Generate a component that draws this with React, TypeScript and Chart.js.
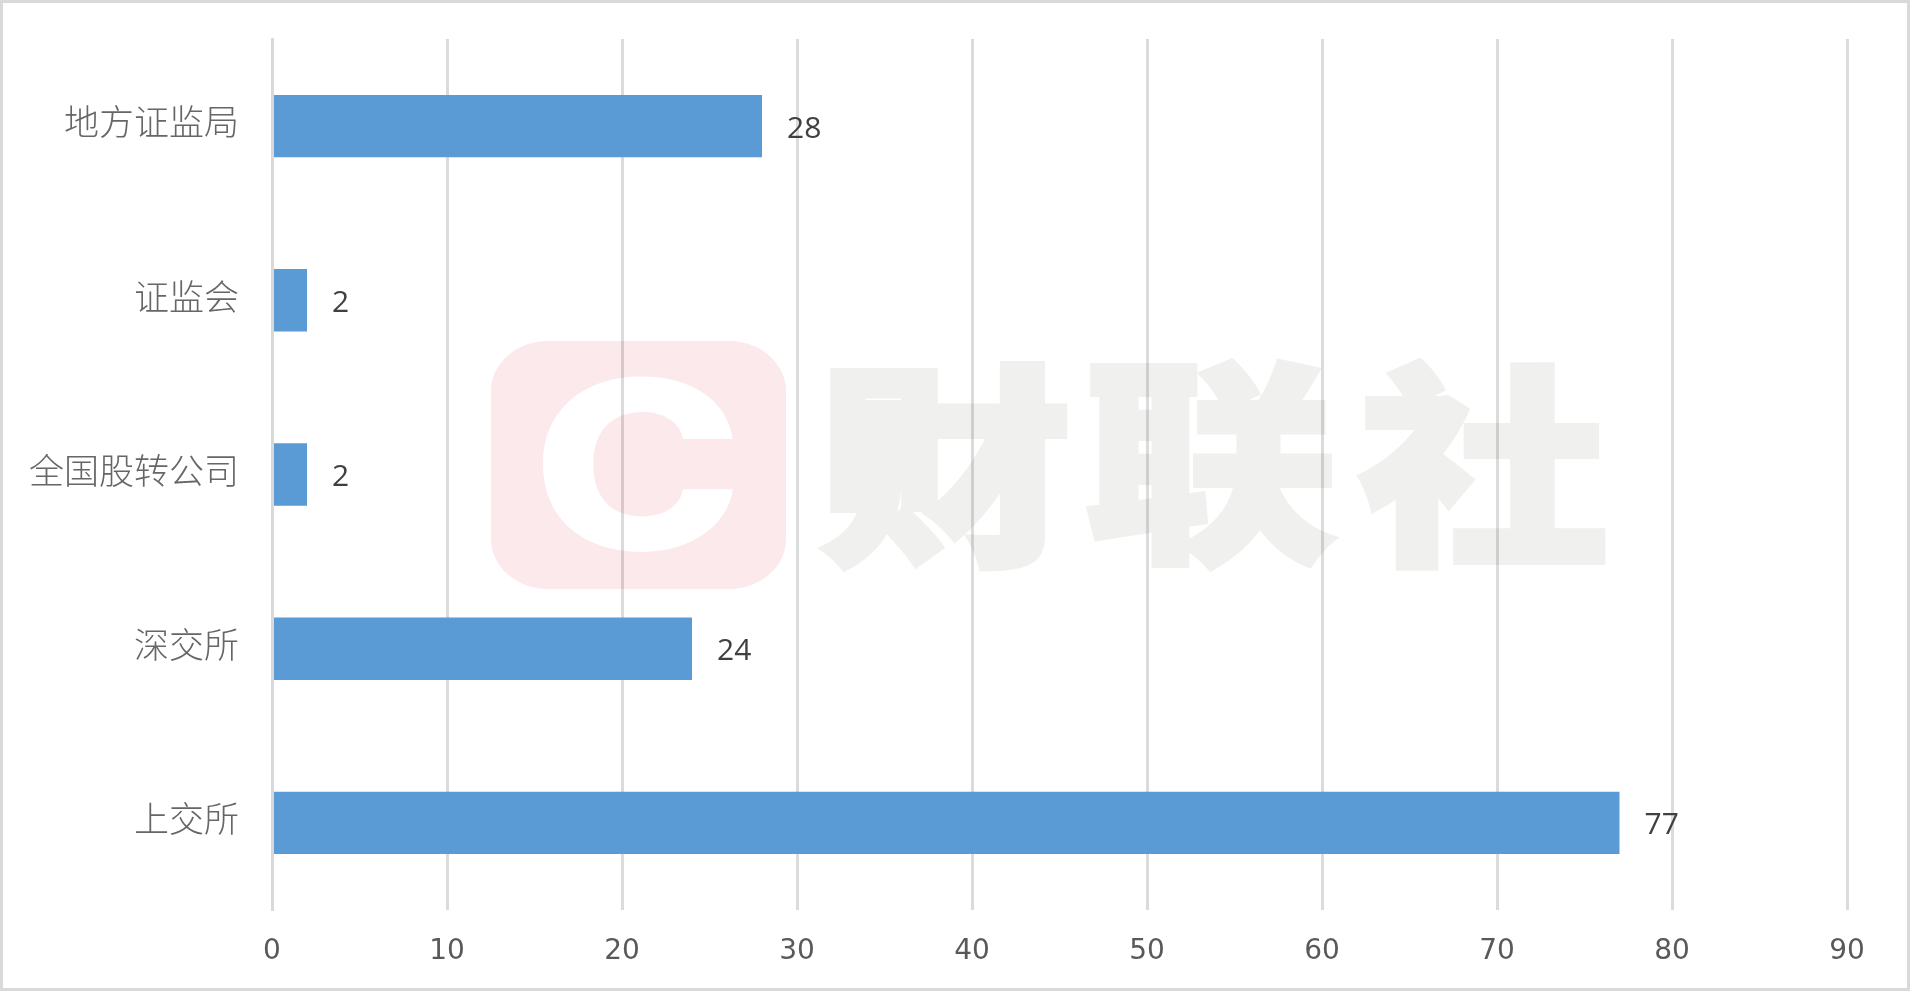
import React, { useEffect, useRef } from 'react';
import Chart from 'chart.js/auto';

const categories = ['地方证监局', '证监会', '全国股转公司', '深交所', '上交所'];
const values = [28, 2, 2, 24, 77];
const tickValues = [0, 10, 20, 30, 40, 50, 60, 70, 80, 90];
const wordmark = ['财', '联', '社'];

const GRID = 'rgba(0,0,0,0.14)';
const digitFont = '"Open Sans", sans-serif';

// squeeze a text into a box using its measured ink bounds
function fitText(ctx: CanvasRenderingContext2D, text: string, font: string, x0: number, y0: number, x1: number, y1: number, color: string, thicken = 0) {
  ctx.save();
  ctx.font = font;
  ctx.textAlign = 'left';
  ctx.textBaseline = 'alphabetic';
  const m = ctx.measureText(text);
  const w = m.actualBoundingBoxLeft + m.actualBoundingBoxRight;
  const h = m.actualBoundingBoxAscent + m.actualBoundingBoxDescent;
  const sx = (x1 - x0 - thicken) / w;
  const sy = (y1 - y0 - thicken) / h;
  ctx.translate(x0 + thicken / 2 + m.actualBoundingBoxLeft * sx, y0 + thicken / 2 + m.actualBoundingBoxAscent * sy);
  ctx.scale(sx, sy);
  ctx.fillStyle = color;
  ctx.fillText(text, 0, 0);
  if (thicken > 0) {
    ctx.strokeStyle = color;
    ctx.lineJoin = 'miter';
    ctx.lineWidth = thicken / Math.min(sx, sy);
    ctx.strokeText(text, 0, 0);
  }
  ctx.restore();
}

const watermark = {
  id: 'watermark',
  beforeDraw(chart: Chart) {
    const ctx = chart.ctx;
    ctx.save();
    ctx.fillStyle = '#fbe9ec';
    ctx.beginPath();
    ctx.roundRect(491, 341, 295, 248, [{ x: 57, y: 50 }]);
    ctx.fill();
    ctx.restore();
    fitText(ctx, 'C', '800 200px Inter, sans-serif', 543, 377, 734, 552, '#ffffff');
    const font = '900 220px "Noto Sans CJK SC", sans-serif';
    fitText(ctx, wordmark[0], font, 820, 360, 1067, 571, '#f0f0ee', 6);
    fitText(ctx, wordmark[1], font, 1087, 358, 1337, 571, '#f0f0ee', 6);
    fitText(ctx, wordmark[2], font, 1357, 358, 1606, 571, '#f0f0ee', 6);
  },
};

const barLabels = {
  id: 'barLabels',
  afterDatasetsDraw(chart: Chart) {
    const ctx = chart.ctx;
    ctx.save();
    ctx.font = `30px ${digitFont}`;
    ctx.fillStyle = '#404040';
    ctx.textAlign = 'left';
    ctx.textBaseline = 'middle';
    chart.getDatasetMeta(0).data.forEach((bar, i) => {
      ctx.fillText(String(values[i]), bar.x + 25, bar.y + 3);
    });
    ctx.restore();
  },
};

export default function App() {
  const canvasRef = useRef<HTMLCanvasElement>(null);

  useEffect(() => {
    document.body.style.margin = '0';
    document.body.style.overflow = 'hidden';
    if (!canvasRef.current) return;
    const chart = new Chart(canvasRef.current, {
      type: 'bar',
      data: {
        labels: categories,
        datasets: [
          {
            data: values,
            backgroundColor: '#5b9bd5',
            barPercentage: 0.358,
            categoryPercentage: 1,
          },
        ],
      },
      options: {
        indexAxis: 'y',
        responsive: false,
        animation: false,
        devicePixelRatio: 1,
        layout: { padding: { top: 39, right: 64, bottom: 0, left: 0 } },
        plugins: {
          legend: { display: false },
          tooltip: { enabled: false },
        },
        scales: {
          x: {
            min: 0,
            max: 90,
            afterFit: (scale) => {
              scale.height = 82;
            },
            afterBuildTicks: (scale) => {
              scale.ticks = tickValues.map((value) => ({ value }));
            },
            grid: { color: GRID, lineWidth: 3, drawTicks: false },
            border: { display: false },
            ticks: {
              color: '#595959',
              padding: 25,
              maxRotation: 0,
              font: { family: '"DejaVu Sans", sans-serif', size: 28 },
            },
          },
          y: {
            afterFit: (scale) => {
              scale.width = 272;
              scale.paddingTop = 0;
              scale.paddingBottom = 0;
            },
            grid: { display: false, drawTicks: false },
            border: { display: true, color: '#d9d9d9', width: 3, z: 1 },
            ticks: {
              color: '#666666',
              padding: 33,
              labelOffset: -4,
              font: { family: '"Noto Sans CJK SC", sans-serif', size: 35, weight: '300' },
            },
          },
        },
      },
      plugins: [watermark, barLabels],
    });
    return () => chart.destroy();
  }, []);

  return (
    <div style={{ position: 'relative', width: 1911, height: 992 }}>
      <canvas ref={canvasRef} width={1911} height={992} style={{ position: 'absolute', left: 0, top: 0 }} />
      <div
        style={{
          position: 'absolute',
          left: 0,
          top: 0,
          width: 1910,
          height: 991,
          boxSizing: 'border-box',
          border: '3px solid #d9d9d9',
        }}
      />
    </div>
  );
}
